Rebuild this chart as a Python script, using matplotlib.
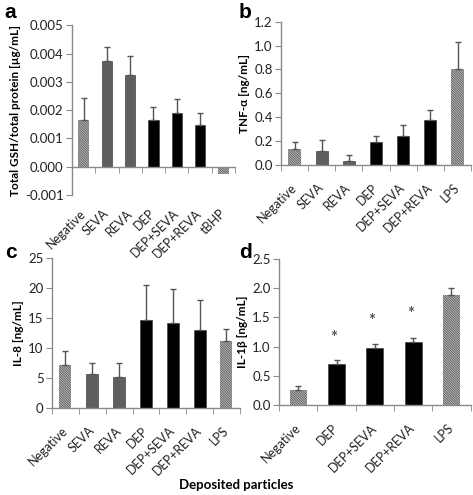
import numpy as np
import matplotlib.pyplot as plt

plt.rcParams['font.family'] = ['Lato', 'DejaVu Sans']
plt.rcParams['hatch.linewidth'] = 0.9

# Panel a: total GSH / total protein
cats_a = ['Negative', 'SEVA', 'REVA', 'DEP', 'DEP+SEVA', 'DEP+REVA', 'tBHP']
vals_a = [0.00165, 0.00375, 0.00325, 0.00165, 0.0019, 0.00148, -0.00027]
errs_a = [0.00078, 0.00048, 0.00065, 0.00045, 0.00048, 0.00042, 0.0]
kind_a = ['h', 'g', 'g', 'k', 'k', 'k', 'h']

# Panel b: TNF-alpha
cats_b = ['Negative', 'SEVA', 'REVA', 'DEP', 'DEP+SEVA', 'DEP+REVA', 'LPS']
vals_b = [0.13, 0.12, 0.03, 0.19, 0.245, 0.375, 0.80]
errs_b = [0.06, 0.09, 0.05, 0.05, 0.085, 0.085, 0.23]
kind_b = ['h', 'g', 'g', 'k', 'k', 'k', 'h']

# Panel c: IL-8
cats_c = ['Negative', 'SEVA', 'REVA', 'DEP', 'DEP+SEVA', 'DEP+REVA', 'LPS']
vals_c = [7.2, 5.6, 5.2, 14.6, 14.2, 12.9, 11.1]
errs_c = [2.3, 1.9, 2.2, 5.9, 5.6, 5.1, 2.0]
kind_c = ['h', 'g', 'g', 'k', 'k', 'k', 'h']

# Panel d: IL-1beta
cats_d = ['Negative', 'DEP', 'DEP+SEVA', 'DEP+REVA', 'LPS']
vals_d = [0.25, 0.70, 0.97, 1.08, 1.88]
errs_d = [0.08, 0.07, 0.08, 0.07, 0.13]
kind_d = ['h', 'k', 'k', 'k', 'h']
star_d = [None, 1.15, 1.44, 1.56, None]

grey = '#5f5f5f'
hatch_col = '#666666'
axis_col = '#8a8a8a'
err_col = '#555555'


def draw_panel(ax, cats, vals, errs, kinds, ylim, yticks, fmt, ylabel,
               zero_axis=False):
    x = np.arange(len(cats))
    for xi, v, e, k in zip(x, vals, errs, kinds):
        if k == 'h':
            ax.bar(xi, v, width=0.45, color='white', edgecolor=hatch_col,
                   hatch='\\' * 14, linewidth=0, zorder=2)
        else:
            ax.bar(xi, v, width=0.45, color=grey if k == 'g' else 'black',
                   edgecolor='#444444', linewidth=0.5, zorder=2)
        if e > 0:
            ax.errorbar(xi, v, yerr=[[0], [e]], color=err_col, capsize=2.2,
                        elinewidth=1.0, capthick=1.0, zorder=3)
    ax.set_xlim(-0.5, len(cats) - 0.5)
    ax.set_ylim(*ylim)
    ax.set_yticks(yticks)
    ax.set_yticklabels([fmt.format(t) for t in yticks])
    if zero_axis:
        ax.spines['bottom'].set_position(('data', 0))
    ax.set_xticks(x)
    ax.set_xticks(np.arange(len(cats) + 1) - 0.5, minor=True)
    ax.tick_params(axis='x', which='major', length=0,
                   pad=32 if zero_axis else 15)
    ax.set_xticklabels(cats, rotation=45, ha='right', va='center',
                       rotation_mode='anchor', fontsize=9, color='#222222')
    ax.tick_params(axis='x', which='minor', length=4, color=axis_col,
                   direction='out')
    ax.tick_params(axis='y', length=4, color=axis_col, labelsize=9.5,
                   labelcolor='#222222', pad=2)
    for s in ['top', 'right']:
        ax.spines[s].set_visible(False)
    for s in ['left', 'bottom']:
        ax.spines[s].set_color(axis_col)
        ax.spines[s].set_linewidth(1.0)
    ax.set_ylabel(ylabel, fontsize=8.5, fontweight='bold', labelpad=3)


fig = plt.figure(figsize=(4.73, 4.95), dpi=100)

ax_a = fig.add_axes([0.152, 0.606, 0.345, 0.343])
draw_panel(ax_a, cats_a, vals_a, errs_a, kind_a, (-0.001, 0.005),
           [-0.001, 0.0, 0.001, 0.002, 0.003, 0.004, 0.005], '{:.3f}',
           'Total GSH/total protein [µg/mL]', zero_axis=True)

ax_b = fig.add_axes([0.594, 0.667, 0.402, 0.289])
draw_panel(ax_b, cats_b, vals_b, errs_b, kind_b, (0, 1.2),
           [0.0, 0.2, 0.4, 0.6, 0.8, 1.0, 1.2], '{:.1f}', 'TNF-α [ng/mL]')

ax_c = fig.add_axes([0.110, 0.176, 0.397, 0.303])
draw_panel(ax_c, cats_c, vals_c, errs_c, kind_c, (0, 25),
           [0, 5, 10, 15, 20, 25], '{:d}', 'IL-8 [ng/mL]')

ax_d = fig.add_axes([0.590, 0.182, 0.405, 0.295])
draw_panel(ax_d, cats_d, vals_d, errs_d, kind_d, (0, 2.5),
           [0.0, 0.5, 1.0, 1.5, 2.0, 2.5], '{:.1f}', 'IL-1β [ng/mL]')
for xi, s in enumerate(star_d):
    if s is not None:
        ax_d.text(xi - 0.07, s, '*', ha='center', va='center', fontsize=12,
                  fontweight='bold', color='#555555')

# panel letters
for lx, ly, letter in [(0.01, 0.975, 'a'), (0.505, 0.975, 'b'),
                       (0.01, 0.49, 'c'), (0.505, 0.49, 'd')]:
    fig.text(lx, ly, letter, fontsize=15, fontweight='bold',
             family='Liberation Sans', va='center', ha='left')

fig.text(0.5, 0.02, 'Deposited particles', ha='center', va='center',
         fontsize=9.5, fontweight='bold')

fig.savefig('out.png', dpi=100, facecolor='white')
